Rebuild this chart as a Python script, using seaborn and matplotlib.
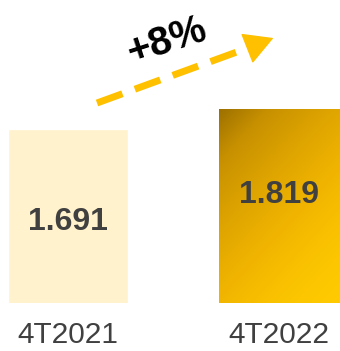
import numpy as np
import pandas as pd
import matplotlib.pyplot as plt
import seaborn as sns
from matplotlib.colors import LinearSegmentedColormap
from matplotlib.patches import FancyArrowPatch
from matplotlib.lines import Line2D

# Data
periods = ['4T2021', '4T2022']
values = [1.691, 1.819]
value_labels = ['1.691', '1.819']
growth_label = '+8%'

df = pd.DataFrame({'Period': periods, 'Value': values})

sns.set_style('white')
plt.rcParams['font.family'] = ['Liberation Sans', 'DejaVu Sans']

fig = plt.figure(figsize=(3.40, 3.51), dpi=100)
ax = fig.add_axes([0, 48 / 351, 1, 303 / 351])

ymin, ymax = 0.577, 2.516
sns.barplot(data=df, x='Period', y='Value', hue='Period', legend=False,
            palette=['#FFF2CC', '#E0A800'], width=0.569, saturation=1,
            ax=ax)
ax.set_xlim(-0.322, 1.289)
ax.set_ylim(ymin, ymax)

# Gradient fill for the second bar (dark top-left -> bright bottom-right)
bar = ax.patches[1]
x0, w, h = bar.get_x(), bar.get_width(), bar.get_height()
gold = LinearSegmentedColormap.from_list(
    'gold', ['#FFCA00', '#F0B400', '#DCA200', '#C79000', '#9C7000'])
xx, yy = np.meshgrid(np.linspace(0, 1, 200), np.linspace(0, 1, 200))
grad = 0.4 * (1 - xx) + 0.6 * yy  # row 0 = bottom
grad = (grad - grad.min()) / (grad.max() - grad.min())
img = ax.imshow(grad ** 1.6, cmap=gold, origin='lower',
                extent=[x0, x0 + w, ymin, h], aspect='auto',
                zorder=bar.get_zorder() + 0.1)
img.set_clip_path(bar)
ax.set_xlim(-0.322, 1.289)
ax.set_ylim(ymin, ymax)

# Value labels inside bars
label_y = [1.095, 1.268]
for i, lab in enumerate(value_labels):
    ax.text(i, label_y[i], lab, ha='center', va='center', fontsize=23,
            fontweight='bold', color='#404040', zorder=5)

# Axis cosmetics
sns.despine(ax=ax, left=True, bottom=True)
ax.set_yticks([])
ax.set_xlabel('')
ax.set_ylabel('')
ax.tick_params(axis='x', length=0, pad=13, labelsize=21.5, labelcolor='#404040')
ax.get_xticklabels()[1].set_x(1.02)

# Growth arrow: dashed shaft + solid head
arrow_col = '#FFC000'
fig.add_artist(Line2D([97 / 340, 256 / 340], [1 - 103 / 351, 1 - 45 / 351],
                      transform=fig.transFigure, color=arrow_col, linewidth=5,
                      linestyle=(0, (3.9, 1.9)), solid_capstyle='butt',
                      dash_capstyle='butt'))
fig.patches.append(FancyArrowPatch(
    (248 / 340, 1 - 48 / 351), (276 / 340, 1 - 37 / 351),
    transform=fig.transFigure, arrowstyle='-|>,head_length=1.9,head_width=1.05',
    mutation_scale=10, color=arrow_col, linewidth=1))
fig.text(167 / 340, 1 - 41 / 351, growth_label, ha='center', va='center',
         fontsize=29, fontweight='bold', color='black', rotation=18)

fig.savefig('out.png', dpi=100)
